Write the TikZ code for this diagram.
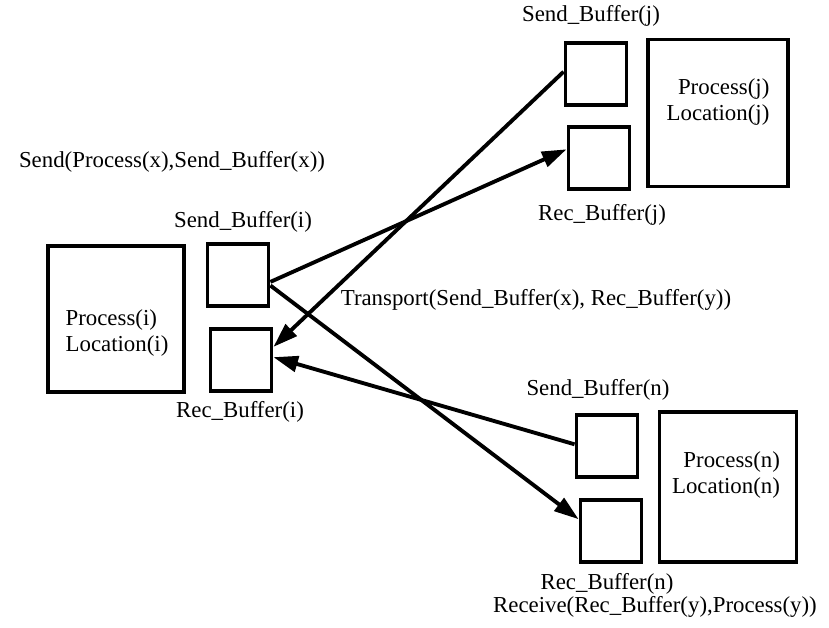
\documentclass[tikz,border=0pt]{standalone}
\usepackage{fontspec}
\setmainfont{Liberation Serif}
\usetikzlibrary{arrows.meta}
\tikzset{
  buffer/.style={draw, line width=2.2pt, minimum width=1.22cm, minimum height=1.25cm, inner sep=0pt},
  procbox/.style={draw, line width=2.2pt, inner sep=0pt},
  lbl/.style={inner sep=0pt, font=\fontsize{13}{15}\selectfont},
  msg/.style={line width=2.2pt, -{Triangle[length=14pt,width=9pt]}},
}
\begin{document}
\begin{tikzpicture}[x=0.02cm,y=-0.02cm]
            \useasboundingbox (0,0) rectangle (829,628);%

            % Process i with its buffers
            \node [procbox, minimum width=2.72cm, minimum height=2.92cm] (proci) at (116,319) {};%
            \node [lbl, align=left] (proci text) at (117,333) {Process(i)\\Location(i)};%
            \node [buffer] (sbi) at (238,275) {};%
            \node [buffer] (rbi) at (241,360) {};%
            \node [lbl] (sbi label) at (243,222) {Send\_Buffer(i)};%
            \node [lbl] (rbi label) at (240,412) {Rec\_Buffer(i)};%

            % Process j with its buffers
            \node [procbox, minimum width=2.8cm, minimum height=2.94cm] (procj) at (718,113) {};%
            \node [lbl, align=right] (procj text) at (718,102) {Process(j)\\Location(j)};%
            \node [buffer] (sbj) at (596,74) {};%
            \node [buffer] (rbj) at (599,158) {};%
            \node [lbl] (sbj label) at (591,16) {Send\_Buffer(j)};%
            \node [lbl] (rbj label) at (602,215) {Rec\_Buffer(j)};%

            % Process n with its buffers
            \node [procbox, minimum width=2.74cm, minimum height=3cm] (procn) at (728,487) {};%
            \node [lbl, align=right] (procn text) at (726,475) {Process(n)\\Location(n)};%
            \node [buffer] (sbn) at (607,446) {};%
            \node [buffer] (rbn) at (611,531) {};%
            \node [lbl] (sbn label) at (598,390) {Send\_Buffer(n)};%
            \node [lbl] (rbn label) at (607,584) {Rec\_Buffer(n)};%

            % Primitives
            \node [lbl] (send) at (172,162) {Send(Process(x),Send\_Buffer(x))};%
            \node [lbl] (transport) at (536,300) {Transport(Send\_Buffer(x), Rec\_Buffer(y))};%
            \node [lbl] (receive) at (655,607) {Receive(Rec\_Buffer(y),Process(y))};%

            % Drawing messages
            \draw [msg] (sbi.-12) -- (rbj.165);%
            \draw [msg] (sbi.-18) -- (rbn.160);%
            \draw [msg] (sbj.176) -- (rbi.22);%
            \draw [msg] (sbn.177) -- (rbi.5);%
\end{tikzpicture}
\end{document}
